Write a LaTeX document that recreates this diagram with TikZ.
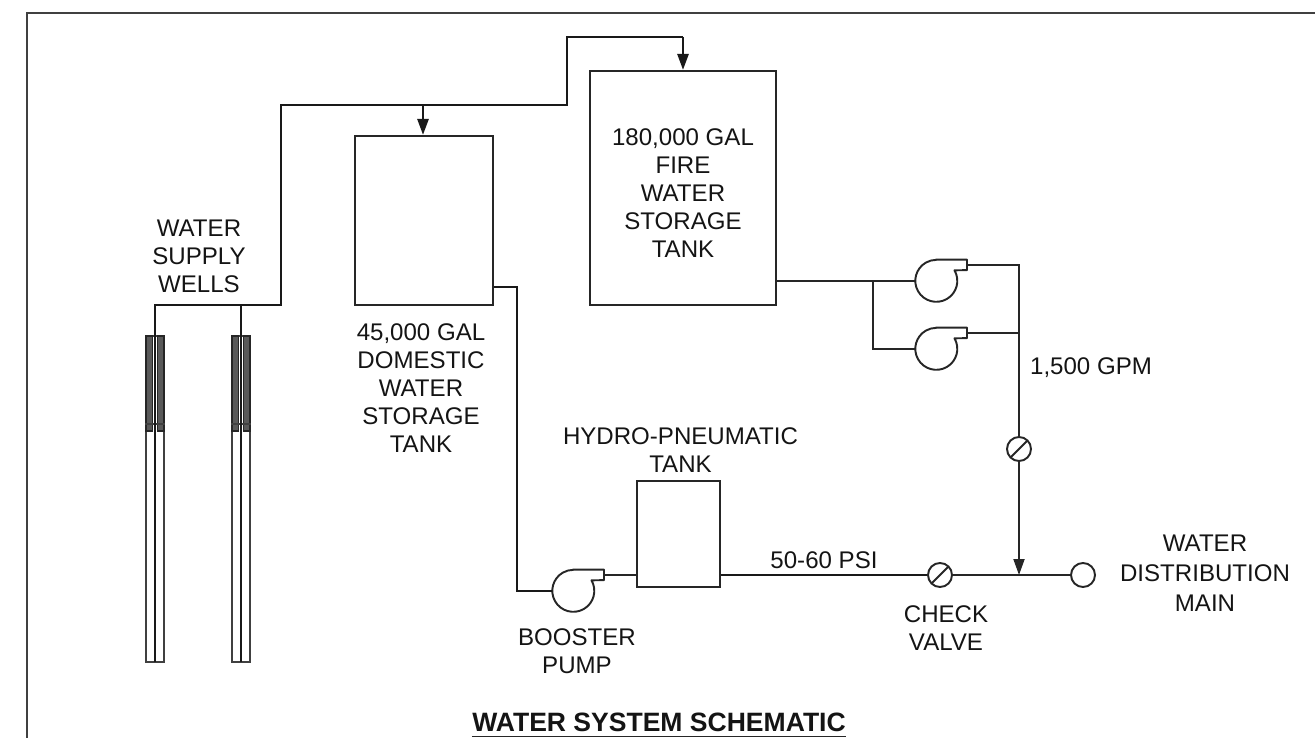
\documentclass[tikz,border=0pt]{standalone}
\usepackage{fontspec}
\setmainfont{Liberation Sans}
\usetikzlibrary{arrows.meta, positioning, calc}

% volute of a pump: open circle, outlet on its upper right
\newcommand{\pumpoutlet}[2]{%
  \draw[pipe, line join=round] (#1.north) -- ++(0.62,0) coordinate (#2a) -- ++(0,-0.21) coordinate (#2b) -- (#1.30)
    arc[start angle=30, end angle=-270, radius=0.42] -- cycle;
  \coordinate (#2) at ($(#2a)!0.5!(#2b)$);
}

\begin{document}
\begin{tikzpicture}[>={Stealth[length=3.2mm, width=2.2mm, inset=0pt]},
    every node/.style={font=\fontsize{13.7pt}{15.9pt}\selectfont, text=black!92},
    pipe/.style={line width=1.1pt, black!85},
    main/.style={line width=1.5pt, black!90},
    tank/.style={rectangle, draw=black!85, line width=1.2pt, inner sep=0pt, align=center},
    pump/.style={circle, minimum size=0.84cm, inner sep=0pt},
    valve/.style={circle, draw=black!85, line width=1.1pt, minimum size=0.48cm, inner sep=0pt,
      path picture={\draw[line width=1.1pt, black!85] (path picture bounding box.south west) -- (path picture bounding box.north east);}},
    outlet/.style={circle, draw=black!85, line width=1.1pt, minimum size=0.48cm, inner sep=0pt},
    label/.style={align=center, inner sep=0pt},
    casing/.style={fill=black!65, draw=black!85, line width=0.7pt},
    wellbore/.style={draw=black!75, line width=0.8pt},
]
\useasboundingbox (0,0) rectangle (26.3,-14.76);

% Frame
\draw[line width=1.5pt, black!75] (0.54,-14.76) |- (26.3,-0.26);

% Tanks
\node[tank, minimum width=2.76cm, minimum height=3.38cm] (domestic) at (8.48,-4.41) {};
\node[tank, minimum width=3.72cm, minimum height=4.68cm] (fire) at (13.66,-3.76) {};
\node[tank, minimum width=1.66cm, minimum height=2.12cm] (hydro) at (13.57,-10.68) {};

% Wells
\foreach \name/\x in {wellA/3.10, wellB/4.82} {
  \draw[wellbore] (\x-0.18,-6.72) rectangle (\x+0.18,-13.24);
  \draw[casing] (\x-0.18,-6.72) rectangle (\x-0.05,-8.62);
  \draw[casing] (\x+0.05,-6.72) rectangle (\x+0.18,-8.62);
  \draw[wellbore] (\x-0.2,-8.48) -- (\x+0.2,-8.48);
  \coordinate (\name) at (\x,-13.24);
}

% Pumps
\node[pump] (booster) at (11.46,-11.82) {};
\node[pump] (fireA) at (18.72,-5.62) {};
\node[pump] (fireB) at (18.72,-6.98) {};
\pumpoutlet{booster}{boosterout}
\pumpoutlet{fireA}{fireAout}
\pumpoutlet{fireB}{fireBout}

% Valves and main
\node[valve] (check) at (18.8,-11.5) {};
\node[valve] (firevalve) at (20.38,-8.98) {};
\node[outlet] (distmain) at (21.66,-11.5) {};

% Junctions
\coordinate (header) at (5.62,-6.1);
\coordinate (branch) at (8.46,-2.1);
\coordinate (riser) at (11.34,-2.1);
\coordinate (firetee) at (17.46,-5.62);
\coordinate (mainjoin) at (20.38,-11.5);
\coordinate (firetop) at (13.66,-0.74);

% Pipes
\draw[main] (wellA) -- (3.10,-6.1) -- (header) -- (5.62,-2.1) -- (riser) -- (riser |- firetop) -- (firetop);
\draw[main] (wellB) -- (4.82,-6.1);
\draw[main, ->] (firetop) -- (fire.north);
\draw[main, ->] (branch) -- (branch |- domestic.north);
\draw[main] (domestic.east |- 0,-5.74) -- (10.34,-5.74) |- (booster.west);
\draw[pipe] (boosterout) -- (boosterout -| hydro.west);
\draw[main] (hydro.east |- check.west) -- (check.west);
\draw[pipe] (check.east) -- (distmain.west);
\draw[pipe] (fire.east |- fireA.west) -- (fireA.west);
\draw[pipe] (firetee) |- (fireB.west);
\draw[pipe] (fireAout) -| (firevalve.north);
\draw[pipe] (fireBout) -- (fireBout -| firevalve);
\draw[pipe, ->] (firevalve.south) -- (mainjoin);

% Labels
\node[label] (wellslabel) at (3.98,-5.12) {WATER\\SUPPLY\\WELLS};
\node[label] (firelabel) at (13.66,-3.86) {180,000 GAL\\FIRE\\WATER\\STORAGE\\TANK};
\node[label] (domesticlabel) at (8.42,-7.76) {45,000 GAL\\DOMESTIC\\WATER\\STORAGE\\TANK};
\node[label] (hydrolabel) at (13.61,-9.0) {HYDRO-PNEUMATIC\\TANK};
\node[label] (boosterlabel) at (11.54,-13.02) {BOOSTER\\PUMP};
\node[label] (psilabel) at (16.48,-11.2) {50-60 PSI};
\node[label] (checklabel) at (18.92,-12.56) {CHECK\\VALVE};
\node[label] (gpmlabel) at (21.82,-7.36) {1,500 GPM};
\node[label, font=\fontsize{13.7pt}{17pt}\selectfont] (mainlabel) at (24.1,-11.46) {WATER\\DISTRIBUTION\\MAIN};
\node[label, font=\fontsize{15.1pt}{19pt}\selectfont\bfseries] (title) at (13.18,-14.44) {WATER SYSTEM SCHEMATIC};
\draw[line width=1pt, black!85] (title.west |- 0,-14.73) -- (title.east |- 0,-14.73);

\end{tikzpicture}
\end{document}
